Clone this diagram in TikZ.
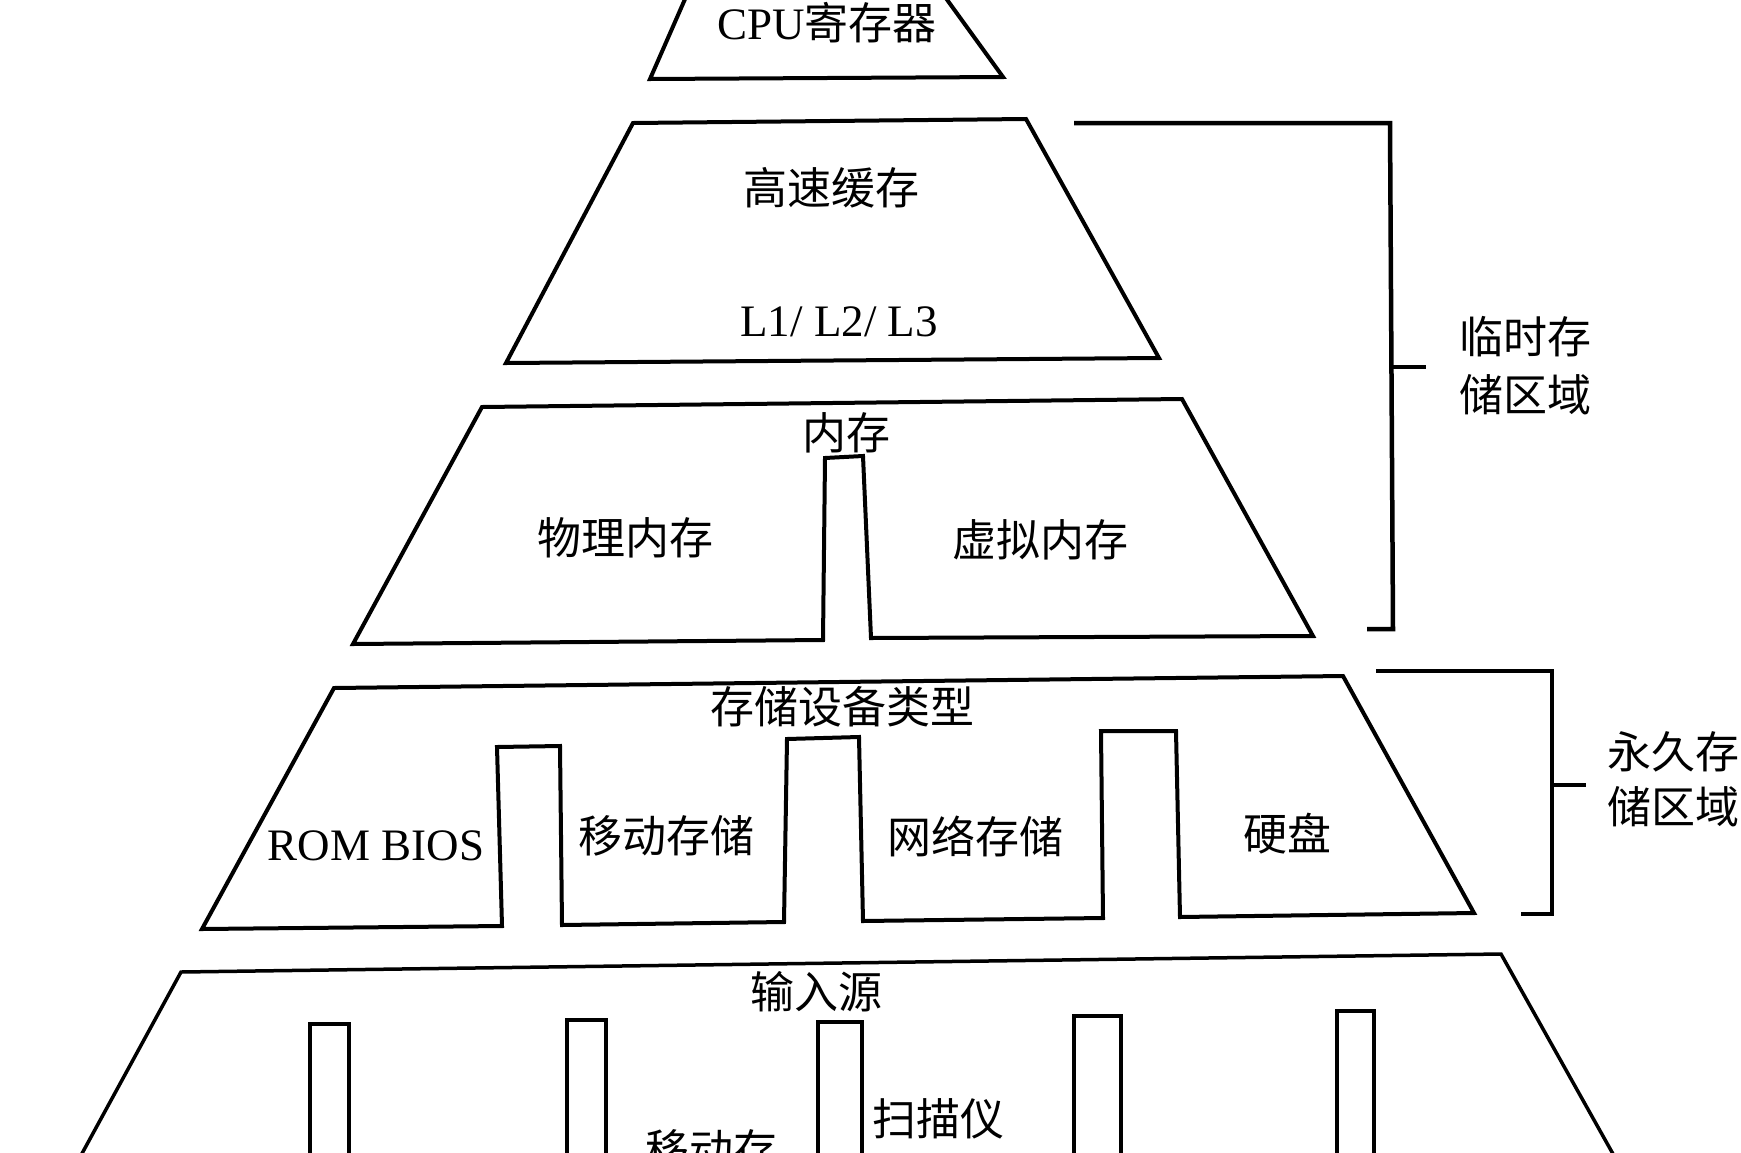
\documentclass[tikz,border=0pt]{standalone}
\usepackage{fontspec}
\setmainfont{Liberation Serif}
\newfontfamily\cjk{Noto Sans CJK SC}
\begin{document}
\begin{tikzpicture}[x=1pt,y=-1pt,
  outl/.style={draw=black,line width=4pt,line join=miter},
  outlthin/.style={draw=black,line width=3.5pt,line join=miter},
  brk/.style={draw=black,line width=4.5pt},
  lbl/.style={inner sep=0pt,font={\cjk\fontsize{44}{50}\selectfont}},
  latlbl/.style={inner sep=0pt,font={\fontsize{45}{50}\selectfont}}]
\useasboundingbox (0,0) rectangle (1741,1152);
\clip (0,0) rectangle (1741,1152);
\fill[white] (0,0) rectangle (1741,1152);

% CPU registers
\draw[outl] (689,-10) -- (650,79) -- (1003,77) -- (940,-10);
\node[lbl] (cpu) at (827,23) {{\fontsize{45}{50}\selectfont\rmfamily CPU}寄存器};

% cache
\draw[outl] (633,123) -- (1026,119) -- (1159,358) -- (506,363) -- cycle;
\node[lbl] (cache) at (831,188) {高速缓存};
\node[latlbl] (lvl) at (839,322) {L1/ L2/ L3};

% memory
\draw[outl] (482,407) -- (1182,399) -- (1313,636) -- (871,638) -- (863,456)
  -- (825,458) -- (823,640) -- (353,644) -- cycle;
\node[lbl] (mem) at (846,433) {内存};
\node[lbl] (phys) at (625,538) {物理内存};
\node[lbl] (virt) at (1040,540) {虚拟内存};

% storage devices
\draw[outl] (334,688) -- (1343,676) -- (1474,913) -- (1180,917) -- (1176,731)
  -- (1101,731) -- (1103,918) -- (863,921) -- (859,737) -- (787,739)
  -- (784,922) -- (562,925) -- (560,746) -- (497,747) -- (502,926)
  -- (202,929) -- cycle;
\node[lbl] (stor) at (842,707) {存储设备类型};
\node[latlbl] (rom) at (376,846) {ROM BIOS};
\node[lbl] (mob) at (666,836) {移动存储};
\node[lbl] (net) at (975,836) {网络存储};
\node[lbl] (hdd) at (1287,834) {硬盘};

% input sources
\draw[outlthin] (73,1170) -- (181,972) -- (1501,954) -- (1622,1170);
\draw[outlthin] (310,1170) -- (310,1024) -- (349,1024) -- (349,1170);
\draw[outlthin] (567,1170) -- (567,1020) -- (606,1020) -- (606,1170);
\draw[outlthin] (818,1170) -- (818,1022) -- (862,1022) -- (862,1170);
\draw[outlthin] (1074,1170) -- (1074,1016) -- (1121,1016) -- (1121,1170);
\draw[outlthin] (1337,1170) -- (1337,1011) -- (1374,1011) -- (1374,1170);
\node[lbl] (inp) at (816,992) {输入源};
\node[lbl] (scan) at (938,1119) {扫描仪};
\node[lbl] (mob2) at (711,1150) {移动存};

% bracket: temporary storage
\coordinate (b1a) at (1074,123);
\coordinate (b1b) at (1390,123);
\coordinate (b1c) at (1393,629);
\coordinate (b1d) at (1367,629);
\coordinate (b1t) at (1391,367);
\coordinate (b1e) at (1426,367);
\draw[brk] (b1a) -- (b1b) -- (b1c) -- (b1d);
\draw[brk] (b1t) -- (b1e);
\node[lbl] (tmp1) at (1525,337) {临时存};
\node[lbl] (tmp2) at (1525,395) {储区域};

% bracket: permanent storage
\coordinate (b2a) at (1376,671);
\coordinate (b2b) at (1552,671);
\coordinate (b2c) at (1552,914);
\coordinate (b2d) at (1521,914);
\coordinate (b2t) at (1552,785);
\coordinate (b2e) at (1586,785);
\draw[brk] (b2a) -- (b2b) -- (b2c) -- (b2d);
\draw[brk] (b2t) -- (b2e);
\node[lbl] (perm1) at (1673,752) {永久存};
\node[lbl] (perm2) at (1673,807) {储区域};
\end{tikzpicture}
\end{document}
